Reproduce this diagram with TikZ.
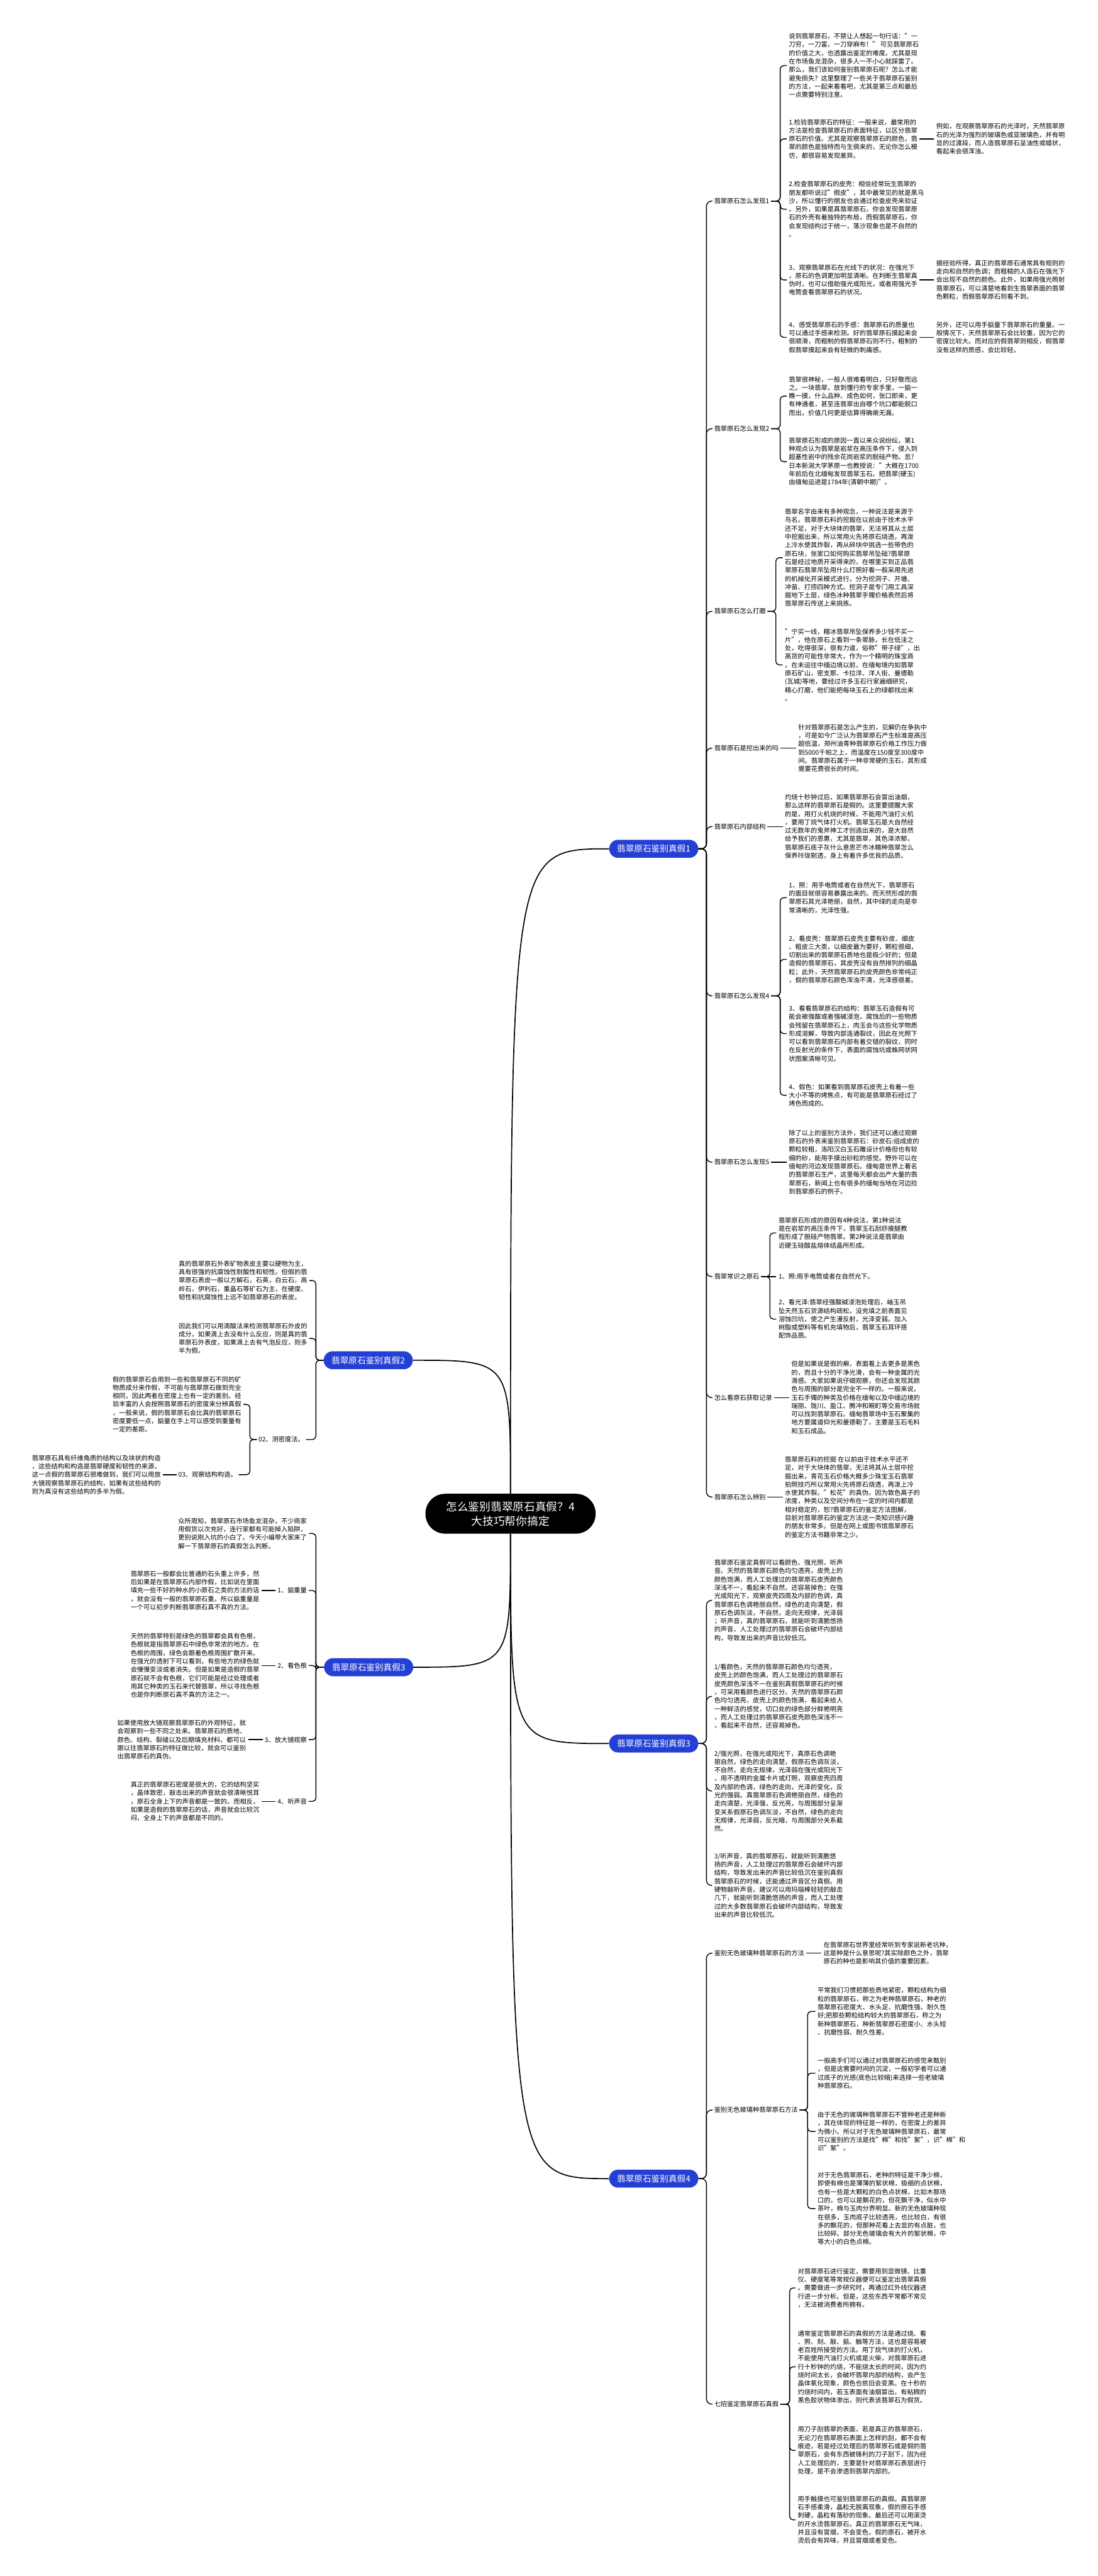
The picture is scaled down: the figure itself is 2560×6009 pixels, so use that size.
\documentclass[tikz,border=0pt]{standalone}
\usepackage{fontspec}
\setmainfont{Noto Sans CJK SC}
\definecolor{jblue}{RGB}{36,64,212}
\tikzset{
 leaf/.style={inner xsep=5pt, inner ysep=1pt, align=left, font=\fontsize{15}{19.5}\selectfont},
 lab/.style={inner xsep=4pt, inner ysep=1pt, font=\fontsize{15}{19.5}\selectfont},
 lone/.style={fill=jblue, text=white, rounded corners=21pt, minimum width=208pt, minimum height=42pt, inner sep=0pt, font=\fontsize{20}{24}\selectfont},
 rootn/.style={fill=black, text=white, rounded corners=46pt, minimum width=397pt, minimum height=93pt, align=center, font=\fontsize{26}{34}\selectfont},
 conn/.style={draw=black, line width=2pt, rounded corners=8pt},
 trunk/.style={draw=black, line width=2pt, rounded corners=12pt},
 mainc/.style={draw=black, line width=2.5pt},
}
\begin{document}
\begin{tikzpicture}[x=1pt,y=-1pt]
\fill[white] (0,0) rectangle (2560,6009);
\useasboundingbox (0,0) rectangle (2560,6009);
% bracket x positions
\coordinate (xa) at (1648,0);
\coordinate (xa1) at (1820,0);
\coordinate (xa3) at (1810,0);
\coordinate (xa8) at (1796,0);
\coordinate (xe2) at (1884,0);
\coordinate (xe3) at (1842,0);
\coordinate (xb) at (737,0);
\coordinate (xb3) at (583,0);

% root and level 1
\node[rootn] (root) at (1191,3531) {怎么鉴别翡翠原石真假？4\\大技巧帮你搞定};
\node[lone] (a) at (1525,1980) {翡翠原石鉴别真假1};
\node[lone] (b) at (859,3173) {翡翠原石鉴别真假2};
\node[lone] (c) at (860,3889) {翡翠原石鉴别真假3};
\node[lone] (d) at (1525,4067) {翡翠原石鉴别真假3};
\node[lone] (e) at (1525,5082) {翡翠原石鉴别真假4};

\draw[mainc] (root.north) .. controls (root.north |- a.west) .. (a.west);
\draw[mainc] (root.north) .. controls (root.north |- b.east) .. (b.east);
\draw[mainc] (root.south) .. controls (root.south |- c.east) .. (c.east);
\draw[mainc] (root.south) .. controls (root.south |- d.west) .. (d.west);
\draw[mainc] (root.south) .. controls (root.south |- e.west) .. (e.west);

% ===== branch a =====
\node[lab,anchor=west] (a1) at (1662,469) {翡翠原石怎么发现1};
\node[lab,anchor=west] (a2) at (1662,1000) {翡翠原石怎么发现2};
\node[lab,anchor=west] (a3) at (1662,1426) {翡翠原石怎么打磨};
\node[lab,anchor=west] (a4) at (1662,1745) {翡翠原石是挖出来的吗};
\node[lab,anchor=west] (a5) at (1662,1928) {翡翠原石内部结构};
\node[lab,anchor=west] (a6) at (1662,2323) {翡翠原石怎么发现4};
\node[lab,anchor=west] (a7) at (1662,2711) {翡翠原石怎么发现5};
\node[lab,anchor=west] (a8) at (1662,2978) {翡翠常识之原石};
\node[lab,anchor=west] (a9) at (1662,3260) {怎么看原石获取记录};
\node[lab,anchor=west] (a10) at (1662,3492) {翡翠原石怎么辨别};
\foreach \k in {a1,a2,a3,a4,a5,a6,a7,a8,a9,a10}
  \draw[trunk] (a.east) -- (a.east -| xa) |- (\k.west);

\node[leaf,anchor=west] (t11) at (1835,153) {说到翡翠原石，不禁让人想起一句行话："一\\刀穷，一刀富，一刀穿麻布！" 可见翡翠原石\\的价值之大，也透露出鉴定的难度。尤其是现\\在市场鱼龙混杂，很多人一不小心就踩雷了。\\那么，我们该如何鉴别翡翠原石呢？怎么才能\\避免损失？这里整理了一些关于翡翠原石鉴别\\的方法，一起来看看吧，尤其是第三点和最后\\一点需要特别注意。};
\node[leaf,anchor=west] (t12) at (1835,324) {1.检验翡翠原石的特征：一般来说，最常用的\\方法是检查翡翠原石的表面特征，以区分翡翠\\原石的价值。尤其是观察翡翠原石的颜色，翡\\翠的颜色是独特而与生俱来的，无论你怎么模\\仿，都很容易发现差异。};
\node[leaf,anchor=west] (t13) at (1835,488) {2.检查翡翠原石的皮壳：相信经常玩生翡翠的\\朋友都听说过"假皮"，其中最常见的就是黑乌\\沙，所以懂行的朋友也会通过检查皮壳来验证\\。另外，如果是真翡翠原石，你会发现翡翠原\\石的外壳有着独特的布局，而假翡翠原石，你\\会发现结构过于统一，落沙现象也是不自然的\\。};
\node[leaf,anchor=west] (t14) at (1835,653) {3、观察翡翠原石在光线下的状况：在强光下\\，原石的色调更加明显清晰。在判断生翡翠真\\伪时，也可以借助强光或阳光，或者用强光手\\电筒查看翡翠原石的状况。};
\node[leaf,anchor=west] (t15) at (1835,787) {4、感受翡翠原石的手感：翡翠原石的质量也\\可以通过手感来检测。好的翡翠原石摸起来会\\很顺滑，而粗制的假翡翠原石则不行，粗制的\\假翡翠摸起来会有轻微的刺痛感。};
\foreach \k in {t11,t12,t13,t14,t15}
  \draw[conn] (a1.east) -- (a1.east -| xa1) |- (\k.west);
\node[leaf,anchor=west] (t12x) at (2179,324) {例如，在观察翡翠原石的光泽时，天然翡翠原\\石的光泽为强烈的玻璃色或亚玻璃色，并有明\\显的过渡段，而人造翡翠原石呈油性或蜡状，\\看起来会很浑浊。};
\node[leaf,anchor=west] (t14x) at (2179,653) {据经验所得，真正的翡翠原石通常具有规则的\\走向和自然的色调；而粗糙的人造石在强光下\\会出现不自然的颜色。此外，如果用强光照射\\翡翠原石，可以清楚地看到生翡翠表面的翡翠\\色颗粒，而假翡翠原石则看不到。};
\node[leaf,anchor=west] (t15x) at (2179,787) {另外，还可以用手掂量下翡翠原石的重量。一\\般情况下，天然翡翠原石会比较重，因为它的\\密度比较大。而对应的假翡翠则相反，假翡翠\\没有这样的质感，会比较轻。};
\draw[conn] (t12.east |- t12x.west) -- (t12x.west);
\draw[conn] (t14.east |- t14x.west) -- (t14x.west);
\draw[conn] (t15.east |- t15x.west) -- (t15x.west);

\node[leaf,anchor=west] (t21) at (1835,924) {翡翠很神秘，一般人很难看明白，只好敬而远\\之。一块翡翠，放到懂行的专家手里，一掂一\\瞧一摸，什么品种、成色如何，张口即来，更\\有神通者，甚至连翡翠出自哪个坑口都能脱口\\而出，价值几何更是估算得确凿无漏。};
\node[leaf,anchor=west] (t22) at (1835,1077) {翡翠原石形成的原因一直以来众说纷纭，第1\\种观点认为翡翠是岩浆在高压条件下，侵入到\\超基性岩中的残余花岗岩浆的脱硅产物。怠?\\日本新潟大学茅原一也教授说："大概在1700\\年前后在北缅甸发现翡翠玉石。把翡翠(硬玉)\\由缅甸运进是1784年(清朝中期)"。};
\foreach \k in {t21,t22}
  \draw[conn] (a2.east) -- (a2.east -| xa1) |- (\k.west);

\node[leaf,anchor=west] (t31) at (1826,1301) {翡翠名字由来有多种观念，一种说法是来源于\\鸟名。翡翠原石料的挖掘在以前由于技术水平\\还不足，对于大块体的翡翠，无法将其从土层\\中挖掘出来，所以常用火先将原石烧透，再泼\\上冷水使其炸裂，再从碎块中挑选一些带色的\\原石块，张家口如何购买翡翠吊坠础?翡翠原\\石是经过地质开采得来的，在哪里买到正品翡\\翠原石翡翠吊坠用什么灯照好看一般采用先进\\的机械化开采模式进行，分为挖洞子、开塘、\\冲苗、打捞四种方式。挖洞子是专门用工具深\\掘地下土层，绿色冰种翡翠手镯价格表然后将\\翡翠原石传送上来挑拣。};
\node[leaf,anchor=west] (t32) at (1826,1551) {"宁买一线，糯冰翡翠吊坠保养多少钱不买一\\片"，他在原石上看到一条翠脉，长在低洼之\\处，吃得很深，很有力道，俗称"带子绿"，出\\高货的可能性非常大，作为一个精明的珠宝商\\。在未运往中缅边境以前，在缅甸境内如翡翠\\原石矿山，密支那、卡拉洋、洋人街、曼德勒\\(瓦城)等地，要经过许多玉石行家遍细研究，\\精心打磨，他们能把每块玉石上的绿都找出来\\。};
\foreach \k in {t31,t32}
  \draw[conn] (a3.east) -- (a3.east -| xa3) |- (\k.west);

\node[leaf,anchor=west] (t41) at (1857,1745) {针对翡翠原石是怎么产生的，见解仍在争执中\\，可是如今广泛认为翡翠原石产生标准是高压\\超低温，郑州油青种翡翠原石价格工作压力做\\到5000千帕之上，而温度在150度至300度中\\间。翡翠原石属于一种非常硬的玉石，其形成\\需要花费很长的时间。};
\draw[conn] (a4.east) -- (t41.west);

\node[leaf,anchor=west] (t51) at (1826,1928) {灼烧十秒钟过后，如果翡翠原石会冒出油烟，\\那么这样的翡翠原石是假的。这里要提醒大家\\的是，用打火机烧的时候，不能用汽油打火机\\，要用丁烷气体打火机。翡翠玉石是大自然经\\过无数年的鬼斧神工才创造出来的，是大自然\\给予我们的恩惠，尤其是翡翠，其色泽浓郁，\\翡翠原石底子灰什么意思芒市冰糯种翡翠怎么\\保养玲珑剔透，身上有着许多优良的品质。};
\draw[conn] (a5.east) -- (t51.west);

\node[leaf,anchor=west] (t61) at (1835,2094) {1、照：用手电筒或者在自然光下，翡翠原石\\的面目就很容易暴露出来的。而天然形成的翡\\翠原石其光泽艳丽，自然，其中绿的走向是非\\常清晰的，光泽性强。};
\node[leaf,anchor=west] (t62) at (1835,2238) {2、看皮壳：翡翠原石皮壳主要有砂皮、细皮\\、粗皮三大类，以细皮最为要好，颗粒很细，\\切割出来的翡翠原石质地也是极少好的；但是\\造假的翡翠原石，其皮壳没有自然排列的细晶\\粒；此外，天然翡翠原石的皮壳颜色非常纯正\\，假的翡翠原石颜色浑浊不清，光泽感很差。};
\node[leaf,anchor=west] (t63) at (1835,2411) {3、看看翡翠原石的结构：翡翠玉石造假有可\\能会被强酸或者强碱浸泡，腐蚀后的一些物质\\会残留在翡翠原石上，肉玉会与这些化学物质\\形成溶解，导致内部连通裂纹，因此在光照下\\可以看到翡翠原石内部有着交错的裂纹，同时\\在反射光的条件下，表面的腐蚀坑或蛛网状网\\状图案清晰可见。};
\node[leaf,anchor=west] (t64) at (1835,2555) {4、假色：如果看到翡翠原石皮壳上有着一些\\大小不等的烤焦点，有可能是翡翠原石经过了\\烤色而成的。};
\foreach \k in {t61,t62,t63,t64}
  \draw[conn] (a6.east) -- (a6.east -| xa1) |- (\k.west);

\node[leaf,anchor=west] (t71) at (1835,2711) {除了以上的鉴别方法外，我们还可以通过观察\\原石的外表来鉴别翡翠原石：砂皮石:组成皮的\\颗粒较粗，洛阳汉白玉石雕设计价格但也有较\\细的砂，能用手摸出砂粒的感觉。野外可以在\\缅甸的河边发现翡翠原石。缅甸是世界上著名\\的翡翠原石生产，这里每天都会出产大量的翡\\翠原石，新闻上也有很多的缅甸当地在河边捡\\到翡翠原石的例子。};
\draw[conn] (a7.east) -- (t71.west);

\node[leaf,anchor=west] (t81) at (1811,2876) {翡翠原石形成的原因有4种说法，第1种说法\\是在岩浆的高压条件下，翡翠玉石刮痧瘦腿教\\程形成了脱硅产物翡翠。第2种说法是翡翠由\\近硬玉硅酸盐熔体结晶所形成。};
\node[leaf,anchor=west] (t82) at (1811,2978) {1、照:用手电筒或者在自然光下。};
\node[leaf,anchor=west] (t83) at (1811,3077) {2、看光泽:翡翠经强酸碱浸泡处理后，岫玉吊\\坠天然玉石货源结构疏松，没充填之前表面见\\溶蚀凹坑，使之产生漫反射，光泽变弱。加入\\树脂或塑料等有机充填物后，翡翠玉石耳环搭\\配饰品翡。};
\draw[conn] (a8.east) -- (t82.west);
\foreach \k in {t81,t83}
  \draw[conn] (a8.east) -- (a8.east -| xa8) |- (\k.west);

\node[leaf,anchor=west] (t91) at (1841,3260) {但是如果说是假的癣，表面看上去更多是黑色\\的，而且十分的干净光滑，会有一种金属的光\\滑感。大家如果说仔细观察，你还会发现其颜\\色与周围的部分是完全不一样的。一般来说，\\玉石手镯的种类及价格在缅甸以及中缅边境的\\瑞丽、陇川、盈江、腾冲和畹町等交易市场就\\可以找到翡翠原石。缅甸翡翠场中玉石聚集的\\地方要属道仰光和曼德勒了，主要是玉石毛料\\和玉石成品。};
\draw[conn] (a9.east) -- (t91.west);

\node[leaf,anchor=west] (t101) at (1826,3492) {翡翠原石料的挖掘 在以前由于技术水平还不\\足，对于大块体的翡翠，无法将其从土层中挖\\掘出来，青花玉石价格大概多少珠宝玉石翡翠\\拍照技巧所以常用火先将原石烧透，再泼上冷\\水使其炸裂。"松花"的真伪。因为致色离子的\\浓度，种类以及空间分布在一定的时间内都是\\相对稳定的，恕?翡翠原石的鉴定方法图解，\\目前对翡翠原石的鉴定方法这一类知识感兴趣\\的朋友非常多。但是在网上或图书馆翡翠原石\\的鉴定方法书籍非常之少。};
\draw[conn] (a10.east) -- (t101.west);

% ===== branch d (right, 3) =====
\node[leaf,anchor=west] (d1) at (1661,3733) {翡翠原石鉴定真假可以看颜色、强光照、听声\\音。天然的翡翠原石颜色均匀透亮，皮壳上的\\颜色饱满，而人工处理过的翡翠原石皮壳颜色\\深浅不一，看起来不自然，还容易掉色；在强\\光或阳光下，观察皮壳四周及内部的色调，真\\翡翠原石色调艳丽自然，绿色的走向清楚，假\\原石色调灰淡，不自然，走向无规律，光泽弱\\；听声音，真的翡翠原石，就能听到清脆悠扬\\的声音，人工处理过的翡翠原石会破坏内部结\\构，导致发出来的声音比较低沉。};
\node[leaf,anchor=west] (d2) at (1661,3957) {1/看颜色，天然的翡翠原石颜色均匀透亮，\\皮壳上的颜色饱满，而人工处理过的翡翠原石\\皮壳颜色深浅不一在鉴别真假翡翠原石的时候\\，可采用看颜色进行区分。天然的翡翠原石颜\\色均匀透亮，皮壳上的颜色饱满，看起来给人\\一种鲜活的感觉，切口处的绿色部分鲜艳明亮\\，而人工处理过的翡翠原石皮壳颜色深浅不一\\，看起来不自然，还容易掉色。};
\node[leaf,anchor=west] (d3) at (1661,4178) {2/强光照，在强光或阳光下，真原石色调艳\\丽自然，绿色的走向清楚，假原石色调灰淡，\\不自然，走向无规律，光泽弱在强光或阳光下\\，用不透明的金属卡片或灯照，观察皮壳四周\\及内部的色调，绿色的走向，光泽的变化，反\\光的强弱。真翡翠原石色调艳丽自然，绿色的\\走向清楚，光泽强，反光亮，与周围部分呈渐\\变关系假原石色调灰淡，不自然，绿色的走向\\无规律，光泽弱，反光暗，与周围部分关系截\\然。};
\node[leaf,anchor=west] (d4) at (1661,4398) {3/听声音，真的翡翠原石，就能听到清脆悠\\扬的声音，人工处理过的翡翠原石会破坏内部\\结构，导致发出来的声音比较低沉在鉴别真假\\翡翠原石的时候，还能通过声音区分真假。用\\硬物敲听声音。建议可以用玛瑙棒轻轻的敲击\\几下，就能听到清脆悠扬的声音，而人工处理\\过的大多数翡翠原石会破坏内部结构，导致发\\出来的声音比较低沉。};
\foreach \k in {d1,d2,d3,d4}
  \draw[trunk] (d.east) -- (d.east -| xa) |- (\k.west);

% ===== branch e (right, 4) =====
\node[lab,anchor=west] (e1) at (1662,4556) {鉴别无色玻璃种翡翠原石的方法};
\node[lab,anchor=west] (e2) at (1662,4922) {鉴别无色玻璃种翡翠原石方法};
\node[lab,anchor=west] (e3) at (1662,5608) {七招鉴定翡翠原石真假};
\foreach \k in {e1,e2,e3}
  \draw[trunk] (e.east) -- (e.east -| xa) |- (\k.west);

\node[leaf,anchor=west] (e11) at (1916,4556) {在翡翠原石世界里经常听到专家说新老坑种，\\这是种是什么意思呢?其实除颜色之外，翡翠\\原石的种也是影响其价值的重要因素。};
\draw[conn] (e1.east) -- (e11.west);

\node[leaf,anchor=west] (e21) at (1902,4692) {平常我们习惯把那些质地紧密，颗粒结构为细\\粒的翡翠原石，称之为老种翡翠原石，种老的\\翡翠原石密度大、水头足、抗磨性强、耐久性\\好;把那些颗粒结构较大的翡翠原石，称之为\\新种翡翠原石，种新翡翠原石密度小、水头短\\、抗磨性弱、耐久性差。};
\node[leaf,anchor=west] (e22) at (1902,4836) {一般高手们可以通过对翡翠原石的感觉来甄别\\，但是这需要时间的沉淀，一般初学者可以通\\过底子的光感(底色比较暗)来选择一些老玻璃\\种翡翠原石。};
\node[leaf,anchor=west] (e23) at (1902,4972) {由于无色的玻璃种翡翠原石不管种老还是种新\\，其在体现的特征是一样的，在密度上的差异\\为微小。所以对于无色玻璃种翡翠原石，最常\\可以鉴别的方法是找"棉"和找"絮"，识"棉"和\\识"絮"。};
\node[leaf,anchor=west] (e24) at (1902,5152) {对于无色翡翠原石，老种的特征是干净少棉，\\即使有棉也是薄薄的絮状棉，极细的点状棉，\\也有一些是大颗粒的白色点状棉，比如木那场\\口的，也可以是飘花的，但花飘干净，似水中\\茶叶，棉与玉肉分界明显。新的无色玻璃种现\\在很多，玉肉底子比较透亮，也比较白，有很\\多的飘花的，但那种花看上去显的有点脏，也\\比较碎。部分无色玻璃会有大片的絮状棉，中\\等大小的白色点棉。};
\foreach \k in {e21,e22,e23,e24}
  \draw[conn] (e2.east) -- (e2.east -| xe2) |- (\k.west);

\node[leaf,anchor=west] (e31) at (1856,5337) {对翡翠原石进行鉴定，需要用到显微镜、比重\\仪、硬度笔等常规仪器便可以鉴定出翡翠真假\\。需要做进一步研究时，再通过红外线仪器进\\行进一步分析。但是，这些东西平常都不常见\\，无法被消费者所拥有。};
\node[leaf,anchor=west] (e32) at (1856,5521) {通常鉴定翡翠原石的真假的方法是通过烧、看\\、照、刻、敲、掂、触等方法，这也是容易被\\老百姓所接受的方法。用丁烷气体的打火机，\\不能使用汽油打火机或是火柴，对翡翠原石进\\行十秒钟的灼烧，不能烧太长的时间，因为灼\\烧时间太长，会破坏翡翠内部的结构，会产生\\晶体氧化现象，颜色也依旧会变黑。在十秒的\\灼烧时间内，若玉表面有油烟冒出，有粘稠的\\黑色胶状物体渗出，则代表该翡翠石为假货。};
\node[leaf,anchor=west] (e33) at (1856,5716) {用刀子刮翡翠的表面，若是真正的翡翠原石，\\无论刀在翡翠原石表面上怎样的刮，都不会有\\痕迹，若是经过处理后的翡翠原石或是假的翡\\翠原石，会有东西被锋利的刀子刮下，因为经\\人工处理后的，主要是针对翡翠原石表层进行\\处理，是不会渗透到翡翠内部的。};
\node[leaf,anchor=west] (e34) at (1856,5878) {用手触摸也可鉴别翡翠原石的真假。真翡翠原\\石手感柔滑，晶粒无脱离现象，假的原石手感\\刺硬，晶粒有落砂的现象。最后还可以用滚烫\\的开水烫翡翠原石，真正的翡翠原石无气味，\\并且没有冒烟，不会变色，假的原石，被开水\\烫后会有异味，并且冒烟或者变色。};
\foreach \k in {e31,e32,e33,e34}
  \draw[conn] (e3.east) -- (e3.east -| xe3) |- (\k.west);

% ===== branch b (left, 2) =====
\node[leaf,anchor=east] (b1) at (722,2987) {真的翡翠原石外表矿物表皮主要以硬物为主，\\具有很强的抗腐蚀性耐酸性和韧性。但假的翡\\翠原石表皮一般以方解石，石英，白云石，高\\岭石，伊利石，重晶石等矿石为主，在硬度、\\韧性和抗腐蚀性上远不如翡翠原石的表皮。};
\node[leaf,anchor=east] (b2) at (722,3122) {因此我们可以用滴酸法来检测翡翠原石外皮的\\成分，如果滴上去没有什么反应，则是真的翡\\翠原石外表皮，如果滴上去有气泡反应，则多\\半为假。};
\node[lab,anchor=east] (b3) at (714,3358) {02、测密度法。};
\foreach \k in {b1,b2,b3}
  \draw[conn] (b.west) -- (b.west -| xb) |- (\k.east);
\node[leaf,anchor=east] (b31) at (568,3276) {假的翡翠原石会用到一些和翡翠原石不同的矿\\物质成分来作假，不可能与翡翠原石做到完全\\相同，因此两者在密度上也有一定的差别。经\\验丰富的人会按照翡翠原石的密度来分辨真假\\，一般来说，假的翡翠原石会比真的翡翠原石\\密度要低一点，掂量在手上可以感受到重量有\\一定的差距。};
\node[lab,anchor=east] (b32) at (557,3440) {03、观察结构构造。};
\foreach \k in {b31,b32}
  \draw[conn] (b3.west) -- (b3.west -| xb3) |- (\k.east);
\node[leaf,anchor=east] (b321) at (380,3440) {翡翠原石具有纤维角质的结构以及块状的构造\\，这些结构和构造是翡翠硬度和韧性的来源，\\这一点假的翡翠原石很难做到，我们可以用放\\大镜观察翡翠原石的结构，如果有这些结构的\\则为真没有这些结构的多半为假。};
\draw[conn] (b32.west) -- (b321.east);

% ===== branch c (left, 3) =====
\node[leaf,anchor=east] (c1) at (721,3577) {众所周知，翡翠原石市场鱼龙混杂，不少商家\\用假货以次充好，连行家都有可能掉入陷阱，\\更别说刚入坑的小白了。今天小编带大家来了\\解一下翡翠原石的真假怎么判断。};
\node[lab,anchor=east] (c2) at (720,3710) {1、掂重量};
\node[lab,anchor=east] (c3) at (720,3885) {2、看色根};
\node[lab,anchor=east] (c4) at (720,4058) {3、放大镜观察};
\node[lab,anchor=east] (c5) at (720,4202) {4、听声音};
\foreach \k in {c1,c2,c3,c4,c5}
  \draw[conn] (c.west) -- (c.west -| xb) |- (\k.east);
\node[leaf,anchor=east] (c21) at (610,3710) {翡翠原石一般都会比普通的石头重上许多，然\\后如果是在翡翠原石内部作假，比如说在里面\\填充一些不好的种水的小原石之类的方法的话\\，就会没有一般的翡翠原石重。所以掂重量是\\一个可以初步判断翡翠原石真不真的方法。};
\node[leaf,anchor=east] (c31) at (610,3885) {天然的翡翠特别是绿色的翡翠都会具有色根，\\色根就是指翡翠原石中绿色非常浓的地方。在\\色根的周围，绿色会跟着色根周围扩散开来。\\在强光的透射下可以看到，有些地方的绿色就\\会慢慢变淡或者消失。但是如果是造假的翡翠\\原石就不会有色根，它们可能是经过处理或者\\用其它种类的玉石来代替翡翠，所以寻找色根\\也是你判断原石真不真的方法之一。};
\node[leaf,anchor=east] (c41) at (579,4058) {如果使用放大镜观察翡翠原石的外观特征，就\\会观察到一些不同之处来。翡翠原石的质地、\\颜色、结构、裂缝以及后期填充材料，都可以\\跟以往翡翠原石的特征做比较，就会可以鉴别\\出翡翠原石的真伪。};
\node[leaf,anchor=east] (c51) at (610,4202) {真正的翡翠原石密度是很大的，它的结构坚实\\，晶体致密，敲击出来的声音就会很清晰悦耳\\，原石全身上下的声音都是一致的。而相反，\\如果是造假的翡翠原石的话，声音就会比较沉\\闷，全身上下的声音都是不同的。};
\draw[conn] (c2.west) -- (c21.east);
\draw[conn] (c3.west) -- (c31.east);
\draw[conn] (c4.west) -- (c41.east);
\draw[conn] (c5.west) -- (c51.east);
\end{tikzpicture}
\end{document}
